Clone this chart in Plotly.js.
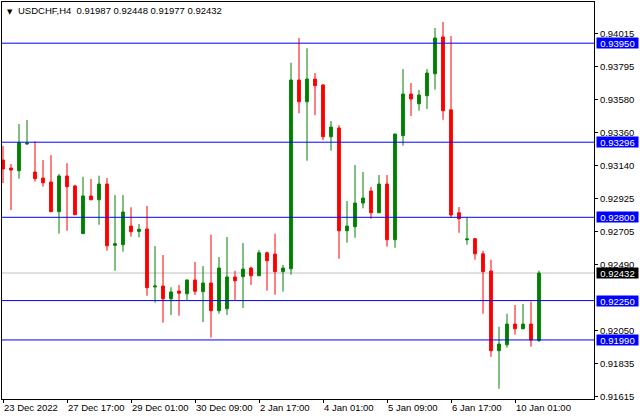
<!DOCTYPE html>
<html>
<head>
<meta charset="utf-8">
<script src="https://cdn.plot.ly/plotly-3.0.1.min.js"></script>
<style>html,body{margin:0;padding:0;background:#fff}#chart{width:640px;height:420px}</style>
</head>
<body>
<div id="chart"></div>
<script>
// H4 bars, index 0 = first visible bar
const bars = [0,1,2,3,4,5,6,7,8,9,10,11,12,13,14,15,16,17,18,19,20,21,22,23,24,25,26,27,28,29,30,31,32,33,34,35,36,37,38,39,40,41,42,43,44,45,46,47,48,49,50,51,52,53,54,55,56,57,58,59,60,61,62,63,64,65,66,67];
const opens  = [0.93178,0.93125,0.93108,0.93284,0.93099,0.93059,0.93033,0.92837,0.93073,0.93007,0.92692,0.92941,0.92916,0.93020,0.92615,0.92619,0.92742,0.92707,0.92723,0.92340,0.92346,0.92262,0.92313,0.92295,0.92386,0.92309,0.92366,0.92183,0.92196,0.92406,0.92408,0.92465,0.92414,0.92566,0.92557,0.92441,0.92460,0.93707,0.93563,0.93713,0.93674,0.93332,0.93390,0.92711,0.92738,0.92894,0.92974,0.92830,0.93020,0.92652,0.93339,0.93614,0.93550,0.93603,0.93748,0.93991,0.93510,0.92830,0.92652,0.92659,0.92559,0.92445,0.91919,0.91958,0.92095,0.92064,0.92095,0.91987];
const highs  = [0.93271,0.93152,0.93416,0.93442,0.93302,0.93178,0.93211,0.93086,0.93158,0.93015,0.93068,0.93053,0.93075,0.93059,0.92947,0.92947,0.92866,0.92756,0.92875,0.92610,0.92551,0.92338,0.92353,0.92389,0.92505,0.92478,0.92685,0.92538,0.92670,0.92447,0.92630,0.92474,0.92584,0.92573,0.92692,0.92485,0.93821,0.93984,0.93916,0.93753,0.93678,0.93436,0.93409,0.92908,0.93145,0.93099,0.93000,0.93079,0.93079,0.93352,0.93779,0.93687,0.93641,0.93779,0.94050,0.94090,0.93997,0.92868,0.92800,0.92661,0.92579,0.92520,0.92077,0.92163,0.92221,0.92227,0.92243,0.92448];
const lows   = [0.93026,0.92848,0.93055,0.93279,0.93035,0.93002,0.92835,0.92692,0.92711,0.92815,0.92690,0.92912,0.92751,0.92579,0.92447,0.92573,0.92672,0.92668,0.92282,0.92236,0.92104,0.92155,0.92150,0.92254,0.92287,0.92108,0.92005,0.92163,0.92155,0.92254,0.92201,0.92353,0.92412,0.92315,0.92289,0.92309,0.92421,0.93487,0.93174,0.93475,0.93310,0.93240,0.92526,0.92632,0.92665,0.92859,0.92791,0.92828,0.92606,0.92599,0.93273,0.93469,0.93504,0.93515,0.93643,0.93444,0.92800,0.92698,0.92619,0.92520,0.92163,0.91879,0.91668,0.91939,0.92025,0.92060,0.91945,0.91977];
const closes = [0.93119,0.93112,0.93293,0.93289,0.93055,0.93028,0.92837,0.93073,0.93002,0.92817,0.92941,0.92916,0.93020,0.92612,0.92626,0.92835,0.92705,0.92721,0.92335,0.92346,0.92262,0.92307,0.92298,0.92386,0.92311,0.92366,0.92183,0.92465,0.92406,0.92381,0.92458,0.92414,0.92566,0.92513,0.92441,0.92465,0.93707,0.93563,0.93713,0.93669,0.93332,0.93396,0.92711,0.92742,0.92894,0.92927,0.92830,0.93020,0.92652,0.93350,0.93614,0.93581,0.93608,0.93753,0.93984,0.93504,0.92815,0.92791,0.92657,0.92559,0.92441,0.91919,0.91963,0.92095,0.92064,0.92095,0.91990,0.92432];

const timeTickBars = [0,8,16,24,32,40,48,56,64];
const timeTickLabels = ['23 Dec 2022','27 Dec 17:00','29 Dec 01:00','30 Dec 09:00','2 Jan 17:00','4 Jan 01:00','5 Jan 09:00','6 Jan 17:00','10 Jan 01:00'];
const priceTicks = [0.94015,0.93795,0.93580,0.93360,0.93140,0.92925,0.92705,0.92490,0.92050,0.91835,0.91615];
const levelLines = [0.93950,0.93296,0.92800,0.92250,0.91990];
const bidPrice = 0.92432;
const symbolTitle = 'USDCHF,H4\u00a0\u00a00.91987 0.92448 0.91977 0.92432';

const FONT = 'Liberation Sans, Arial, sans-serif';
const FS = 9.5;

const trace = {
  type: 'candlestick',
  x: bars, open: opens, high: highs, low: lows, close: closes,
  increasing: {line: {color: '#008000', width: 1}, fillcolor: '#008000'},
  decreasing: {line: {color: '#ff0000', width: 1}, fillcolor: '#ff0000'},
  whiskerwidth: 0,
  hoverinfo: 'skip',
  showlegend: false
};

const shapes = levelLines.map(p => ({
  type: 'line', xref: 'paper', x0: 0, x1: 1, yref: 'y', y0: p, y1: p,
  line: {color: '#0000ff', width: 1}
}));
shapes.push({type: 'line', xref: 'paper', x0: 0, x1: 1, yref: 'y', y0: bidPrice, y1: bidPrice,
  line: {color: '#c0c0c0', width: 1}, layer: 'below'});

const annotations = levelLines.map(p => ({
  xref: 'paper', x: 1, xanchor: 'left', xshift: 2, yref: 'y', y: p, yanchor: 'middle',
  text: p.toFixed(5), showarrow: false, bgcolor: '#0000ff', borderpad: 0,
  width: 41, height: 10, font: {family: FONT, size: FS, color: '#ffffff'}
}));
annotations.push({
  xref: 'paper', x: 1, xanchor: 'left', xshift: 2, yref: 'y', y: bidPrice, yanchor: 'middle',
  text: bidPrice.toFixed(5), showarrow: false, bgcolor: '#000000', borderpad: 0,
  width: 41, height: 10, font: {family: FONT, size: FS, color: '#ffffff'}
});
annotations.push({
  xref: 'paper', x: 0, xanchor: 'left', xshift: 3, yref: 'paper', y: 1, yanchor: 'top', yshift: -4,
  text: '▼', showarrow: false, font: {family: 'DejaVu Sans', size: 7, color: '#000000'}
});

const layout = {
  width: 640, height: 420,
  margin: {l: 2, r: 46, t: 2, b: 21, pad: 0},
  paper_bgcolor: '#ffffff', plot_bgcolor: '#ffffff',
  boxgap: 0.5,
  title: {text: symbolTitle, xref: 'container', x: 18/640, xanchor: 'left',
          yref: 'container', y: 1 - 11/420, yanchor: 'middle',
          font: {family: FONT, size: FS, color: '#000000'}},
  xaxis: {
    range: [-0.125, 73.875], rangeslider: {visible: false},
    showgrid: false, zeroline: false,
    showline: true, mirror: true, linecolor: '#000000', linewidth: 1,
    tickmode: 'array', tickvals: timeTickBars, ticktext: timeTickLabels,
    ticks: 'outside', ticklen: 3, tickcolor: '#000000',
    ticklabelposition: 'outside right', tickangle: 0, automargin: false,
    tickfont: {family: FONT, size: FS, color: '#000000'}
  },
  yaxis: {
    side: 'right', range: [0.91600, 0.94222],
    showgrid: false, zeroline: false,
    showline: true, mirror: true, linecolor: '#000000', linewidth: 1,
    tickmode: 'array', tickvals: priceTicks, tickformat: '.5f',
    ticks: 'outside', ticklen: 3, tickcolor: '#000000', automargin: false,
    tickfont: {family: FONT, size: FS, color: '#000000'}
  },
  shapes: shapes,
  annotations: annotations
};

Plotly.newPlot('chart', [trace], layout, {staticPlot: true, displayModeBar: false});
</script>
</body>
</html>
